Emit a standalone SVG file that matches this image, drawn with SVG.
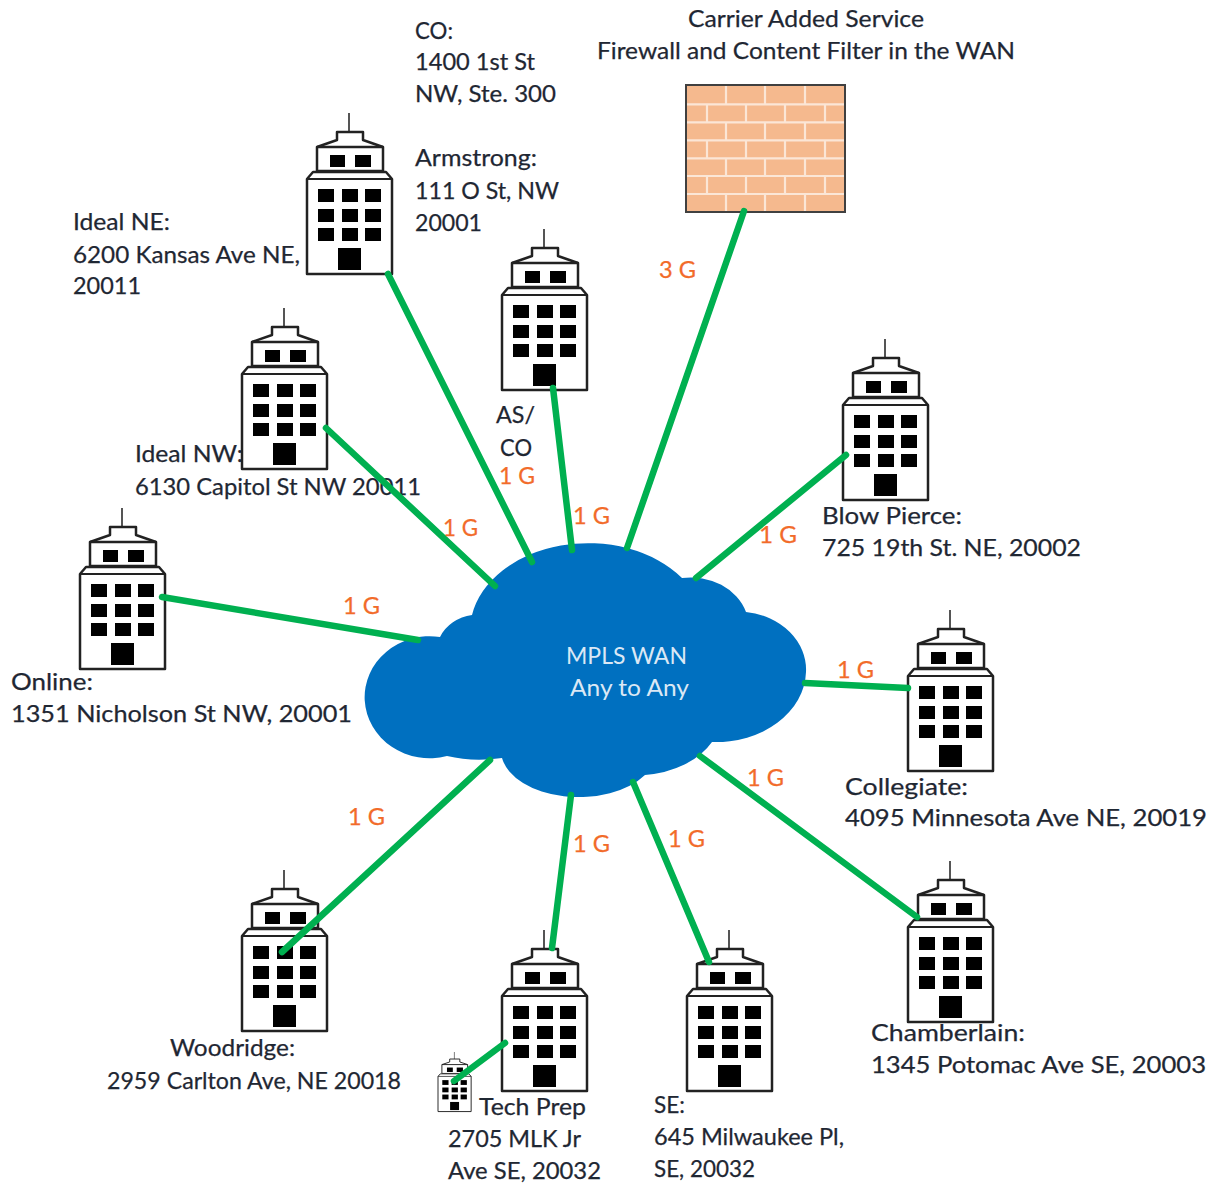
<svg xmlns="http://www.w3.org/2000/svg" width="1219" height="1183" viewBox="0 0 1219 1183">
<style>
text{font-family:"Lato","Liberation Sans",sans-serif;font-size:24px;fill:#1f2733;stroke:#1f2733;stroke-width:.25}
text.g{fill:#f26b2a;stroke:#f26b2a}
text.w{fill:#dbe8f5;stroke:none}
.c line{stroke:#00b050;stroke-width:6.5;stroke-linecap:round}
.o{fill:#fff;stroke:#222;stroke-width:2.5;stroke-linejoin:round}
.b line{stroke:#fbe6d6;stroke-width:2.2}
</style>
<defs>
<symbol id="bld" viewBox="0 0 85 163" width="85" height="163" overflow="visible">
<line x1="42" y1="0" x2="42" y2="19" stroke="#555" stroke-width="2"/>
<path class="o" d="M10 34L10 58L76 58L76 34L56 27L56 19L30 19L30 27Z"/>
<path d="M10 34L76 34" stroke="#222" stroke-width="2.5"/>
<rect x="23" y="42" width="15" height="12" fill="#000"/>
<rect x="48" y="42" width="16" height="12" fill="#000"/>
<path class="o" d="M0 66L6 59L79 59L85 66L85 161L0 161Z"/>
<path d="M0 66L85 66" stroke="#222" stroke-width="2"/>
<rect x="11" y="76" width="16" height="13"/><rect x="35" y="76" width="16" height="13"/><rect x="58" y="76" width="16" height="13"/>
<rect x="11" y="96" width="16" height="13"/><rect x="35" y="96" width="16" height="13"/><rect x="58" y="96" width="16" height="13"/>
<rect x="11" y="115" width="16" height="13"/><rect x="35" y="115" width="16" height="13"/><rect x="58" y="115" width="16" height="13"/>
<rect x="31" y="135" width="23" height="22"/>
</symbol>
</defs>
<rect width="1219" height="1183" fill="#fff"/>

<g id="cloud">
<path fill="#0070c0" d="M440 637A42 38 0 0 1 472 615A118 88 0 0 1 682 578A58 50 0 0 1 746 612A68 58 0 0 1 806 672A90 72 0 0 1 712 742A85 60 0 0 1 645 775A78 47 0 0 1 502 758A60 22 0 0 1 447 756A65 61 0 1 1 440 637Z"/>
<text class="w" x="566" y="664" textLength="121" lengthAdjust="spacingAndGlyphs">MPLS WAN</text>
<text class="w" x="570" y="696" textLength="119" lengthAdjust="spacingAndGlyphs">Any to Any</text>
</g>

<g id="firewall">
<rect x="686" y="85" width="159" height="127" fill="#f5b98e"/>
<g class="b">
<line x1="687" y1="104.300" x2="844" y2="104.300"/><line x1="687" y1="122.300" x2="844" y2="122.300"/><line x1="687" y1="140.300" x2="844" y2="140.300"/><line x1="687" y1="158.300" x2="844" y2="158.300"/><line x1="687" y1="176" x2="844" y2="176"/><line x1="687" y1="194" x2="844" y2="194"/>
<line x1="726" y1="86" x2="726" y2="104"/><line x1="765" y1="86" x2="765" y2="104"/><line x1="805" y1="86" x2="805" y2="104"/>
<line x1="707" y1="104" x2="707" y2="122"/><line x1="746" y1="104" x2="746" y2="122"/><line x1="785" y1="104" x2="785" y2="122"/><line x1="825" y1="104" x2="825" y2="122"/>
<line x1="726" y1="122" x2="726" y2="140"/><line x1="765" y1="122" x2="765" y2="140"/><line x1="805" y1="122" x2="805" y2="140"/>
<line x1="707" y1="140" x2="707" y2="158"/><line x1="746" y1="140" x2="746" y2="158"/><line x1="785" y1="140" x2="785" y2="158"/><line x1="825" y1="140" x2="825" y2="158"/>
<line x1="726" y1="158" x2="726" y2="176"/><line x1="765" y1="158" x2="765" y2="176"/><line x1="805" y1="158" x2="805" y2="176"/>
<line x1="707" y1="176" x2="707" y2="194"/><line x1="746" y1="176" x2="746" y2="194"/><line x1="785" y1="176" x2="785" y2="194"/><line x1="825" y1="176" x2="825" y2="194"/>
<line x1="726" y1="194" x2="726" y2="211"/><line x1="765" y1="194" x2="765" y2="211"/><line x1="805" y1="194" x2="805" y2="211"/>
</g>
<rect x="686" y="85" width="159" height="127" fill="none" stroke="#404040" stroke-width="2"/>
<text x="688" y="27" textLength="236" lengthAdjust="spacingAndGlyphs">Carrier Added Service</text>
<text x="597" y="59" textLength="418" lengthAdjust="spacingAndGlyphs">Firewall and Content Filter in the WAN</text>
</g>

<g id="ideal-ne"><use href="#bld" x="307" y="113"/>
<text x="73" y="230" textLength="97" lengthAdjust="spacingAndGlyphs">Ideal NE:</text>
<text x="73" y="263" textLength="227" lengthAdjust="spacingAndGlyphs">6200 Kansas Ave NE,</text>
<text x="73" y="294" textLength="68" lengthAdjust="spacingAndGlyphs">20011</text></g>

<g id="armstrong-co"><use href="#bld" x="502" y="229"/>
<text x="415" y="39" textLength="38" lengthAdjust="spacingAndGlyphs">CO:</text>
<text x="415" y="70" textLength="120" lengthAdjust="spacingAndGlyphs">1400 1st St</text>
<text x="415" y="102" textLength="141" lengthAdjust="spacingAndGlyphs">NW, Ste. 300</text>
<text x="415" y="166" textLength="122" lengthAdjust="spacingAndGlyphs">Armstrong:</text>
<text x="415" y="199" textLength="144" lengthAdjust="spacingAndGlyphs">111 O St, NW</text>
<text x="415" y="231" textLength="67" lengthAdjust="spacingAndGlyphs">20001</text></g>

<g id="ideal-nw"><use href="#bld" x="242" y="308"/>
<text x="135" y="462" textLength="108" lengthAdjust="spacingAndGlyphs">Ideal NW:</text>
<text x="135" y="495" textLength="286" lengthAdjust="spacingAndGlyphs">6130 Capitol St NW 20011</text></g>

<g id="blow-pierce"><use href="#bld" x="843" y="339"/>
<text x="822" y="524" textLength="140" lengthAdjust="spacingAndGlyphs">Blow Pierce:</text>
<text x="822" y="556" textLength="259" lengthAdjust="spacingAndGlyphs">725 19th St. NE, 20002</text></g>

<g id="online"><use href="#bld" x="80" y="508"/>
<text x="11" y="690" textLength="82" lengthAdjust="spacingAndGlyphs">Online:</text>
<text x="11" y="722" textLength="341" lengthAdjust="spacingAndGlyphs">1351 Nicholson St NW, 20001</text></g>

<g id="collegiate"><use href="#bld" x="908" y="610"/>
<text x="845" y="795" textLength="123" lengthAdjust="spacingAndGlyphs">Collegiate:</text>
<text x="845" y="826" textLength="362" lengthAdjust="spacingAndGlyphs">4095 Minnesota Ave NE, 20019</text></g>

<g id="chamberlain"><use href="#bld" x="908" y="861"/>
<text x="871" y="1041" textLength="154" lengthAdjust="spacingAndGlyphs">Chamberlain:</text>
<text x="871" y="1073" textLength="335" lengthAdjust="spacingAndGlyphs">1345 Potomac Ave SE, 20003</text></g>

<g id="woodridge"><use href="#bld" x="242" y="870"/>
<text x="170" y="1056" textLength="125" lengthAdjust="spacingAndGlyphs">Woodridge:</text>
<text x="107" y="1089" textLength="294" lengthAdjust="spacingAndGlyphs">2959 Carlton Ave, NE 20018</text></g>

<g id="tech-prep"><use href="#bld" x="502" y="930"/>
<text x="479" y="1115" textLength="107" lengthAdjust="spacingAndGlyphs">Tech Prep</text>
<text x="448" y="1147" textLength="133" lengthAdjust="spacingAndGlyphs">2705 MLK Jr</text>
<text x="448" y="1179" textLength="153" lengthAdjust="spacingAndGlyphs">Ave SE, 20032</text></g>

<g id="tech-prep-small"><use href="#bld" transform="translate(438 1052) scale(.39 .37)"/></g>

<g id="se"><use href="#bld" x="687" y="930"/>
<text x="654" y="1113" textLength="31" lengthAdjust="spacingAndGlyphs">SE:</text>
<text x="654" y="1145" textLength="190" lengthAdjust="spacingAndGlyphs">645 Milwaukee Pl,</text>
<text x="654" y="1177" textLength="101" lengthAdjust="spacingAndGlyphs">SE, 20032</text></g>

<g id="connectors" class="c">
<line x1="388" y1="274" x2="532" y2="562"/>
<line x1="553" y1="388" x2="572" y2="550"/>
<line x1="744" y1="211" x2="627" y2="548"/>
<line x1="326" y1="428" x2="495" y2="586"/>
<line x1="846" y1="455" x2="696" y2="578"/>
<line x1="162" y1="597" x2="418" y2="640"/>
<line x1="908" y1="688" x2="805" y2="683"/>
<line x1="917" y1="917" x2="700" y2="756"/>
<line x1="709" y1="962" x2="633" y2="782"/>
<line x1="552" y1="948" x2="571" y2="795"/>
<line x1="282" y1="952" x2="490" y2="760"/>
<line x1="505" y1="1043" x2="454" y2="1081"/>
</g>

<g id="link-labels">
<text class="g" x="659" y="278" textLength="37" lengthAdjust="spacingAndGlyphs">3 G</text>
<text x="496" y="423" textLength="39" lengthAdjust="spacingAndGlyphs">AS/</text>
<text x="500" y="456" textLength="32" lengthAdjust="spacingAndGlyphs">CO</text>
<text class="g" x="499" y="484" textLength="36" lengthAdjust="spacingAndGlyphs">1 G</text>
<text class="g" x="573" y="524" textLength="37" lengthAdjust="spacingAndGlyphs">1 G</text>
<text class="g" x="443" y="536" textLength="35" lengthAdjust="spacingAndGlyphs">1 G</text>
<text class="g" x="759" y="543" textLength="38" lengthAdjust="spacingAndGlyphs">1 G</text>
<text class="g" x="343" y="614" textLength="37" lengthAdjust="spacingAndGlyphs">1 G</text>
<text class="g" x="837" y="678" textLength="37" lengthAdjust="spacingAndGlyphs">1 G</text>
<text class="g" x="747" y="786" textLength="37" lengthAdjust="spacingAndGlyphs">1 G</text>
<text class="g" x="348" y="825" textLength="37" lengthAdjust="spacingAndGlyphs">1 G</text>
<text class="g" x="573" y="852" textLength="37" lengthAdjust="spacingAndGlyphs">1 G</text>
<text class="g" x="668" y="847" textLength="37" lengthAdjust="spacingAndGlyphs">1 G</text>
</g>
</svg>
